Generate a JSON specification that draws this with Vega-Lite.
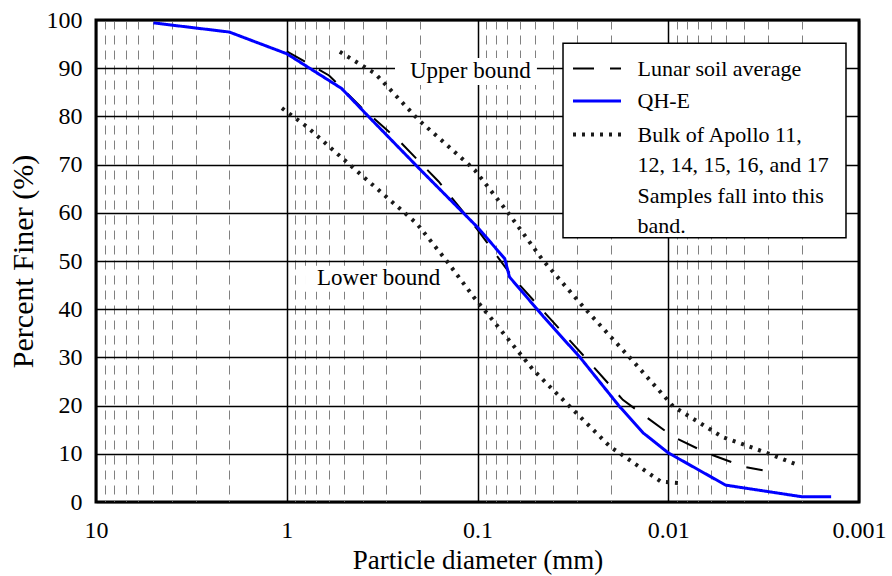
{
  "$schema": "https://vega.github.io/schema/vega-lite/v6.json",
  "width": 763,
  "height": 482,
  "autosize": {"type": "none"},
  "padding": {"left": 96, "top": 20, "right": 33, "bottom": 74},
  "background": "white",
  "config": {
    "font": "Liberation Serif",
    "view": {"stroke": "black", "strokeWidth": 3},
    "axis": {
      "labelFont": "Liberation Serif",
      "titleFont": "Liberation Serif",
      "labelColor": "black",
      "titleColor": "black",
      "titleFontWeight": "normal",
      "labelFontSize": 24,
      "titleFontSize": 27,
      "domain": false,
      "ticks": false
    },
    "style": {"guide-label": {"lineHeight": 30.5}}
  },
  "datasets": {
    "curves": [
      {"series": "Bulk of Apollo 11, 12, 14, 15, 16, and 17 Samples fall into this band.", "bound": "upper", "d": 0.527, "p": 93.4},
      {"series": "Bulk of Apollo 11, 12, 14, 15, 16, and 17 Samples fall into this band.", "bound": "upper", "d": 0.344, "p": 88.9},
      {"series": "Bulk of Apollo 11, 12, 14, 15, 16, and 17 Samples fall into this band.", "bound": "upper", "d": 0.204, "p": 79.3},
      {"series": "Bulk of Apollo 11, 12, 14, 15, 16, and 17 Samples fall into this band.", "bound": "upper", "d": 0.1035, "p": 68.9},
      {"series": "Bulk of Apollo 11, 12, 14, 15, 16, and 17 Samples fall into this band.", "bound": "upper", "d": 0.07, "p": 60.3},
      {"series": "Bulk of Apollo 11, 12, 14, 15, 16, and 17 Samples fall into this band.", "bound": "upper", "d": 0.0455, "p": 50.2},
      {"series": "Bulk of Apollo 11, 12, 14, 15, 16, and 17 Samples fall into this band.", "bound": "upper", "d": 0.0279, "p": 40.5},
      {"series": "Bulk of Apollo 11, 12, 14, 15, 16, and 17 Samples fall into this band.", "bound": "upper", "d": 0.0152, "p": 29.1},
      {"series": "Bulk of Apollo 11, 12, 14, 15, 16, and 17 Samples fall into this band.", "bound": "upper", "d": 0.0094, "p": 19.8},
      {"series": "Bulk of Apollo 11, 12, 14, 15, 16, and 17 Samples fall into this band.", "bound": "upper", "d": 0.0052, "p": 13.5},
      {"series": "Bulk of Apollo 11, 12, 14, 15, 16, and 17 Samples fall into this band.", "bound": "upper", "d": 0.003, "p": 10.1},
      {"series": "Bulk of Apollo 11, 12, 14, 15, 16, and 17 Samples fall into this band.", "bound": "upper", "d": 0.0021, "p": 7.7},
      {"series": "Bulk of Apollo 11, 12, 14, 15, 16, and 17 Samples fall into this band.", "bound": "lower", "d": 1.06, "p": 81.7},
      {"series": "Bulk of Apollo 11, 12, 14, 15, 16, and 17 Samples fall into this band.", "bound": "lower", "d": 0.786, "p": 77.9},
      {"series": "Bulk of Apollo 11, 12, 14, 15, 16, and 17 Samples fall into this band.", "bound": "lower", "d": 0.4565, "p": 69.6},
      {"series": "Bulk of Apollo 11, 12, 14, 15, 16, and 17 Samples fall into this band.", "bound": "lower", "d": 0.2085, "p": 57.8},
      {"series": "Bulk of Apollo 11, 12, 14, 15, 16, and 17 Samples fall into this band.", "bound": "lower", "d": 0.145, "p": 50.0},
      {"series": "Bulk of Apollo 11, 12, 14, 15, 16, and 17 Samples fall into this band.", "bound": "lower", "d": 0.105, "p": 42.6},
      {"series": "Bulk of Apollo 11, 12, 14, 15, 16, and 17 Samples fall into this band.", "bound": "lower", "d": 0.051, "p": 27.4},
      {"series": "Bulk of Apollo 11, 12, 14, 15, 16, and 17 Samples fall into this band.", "bound": "lower", "d": 0.0417, "p": 23.9},
      {"series": "Bulk of Apollo 11, 12, 14, 15, 16, and 17 Samples fall into this band.", "bound": "lower", "d": 0.0202, "p": 11.5},
      {"series": "Bulk of Apollo 11, 12, 14, 15, 16, and 17 Samples fall into this band.", "bound": "lower", "d": 0.0109, "p": 4.2},
      {"series": "Bulk of Apollo 11, 12, 14, 15, 16, and 17 Samples fall into this band.", "bound": "lower", "d": 0.0084, "p": 3.9},
      {"series": "Lunar soil average", "bound": "avg", "d": 1.0, "p": 93.5},
      {"series": "Lunar soil average", "bound": "avg", "d": 0.6, "p": 88.5},
      {"series": "Lunar soil average", "bound": "avg", "d": 0.41, "p": 82.0},
      {"series": "Lunar soil average", "bound": "avg", "d": 0.26, "p": 75.1},
      {"series": "Lunar soil average", "bound": "avg", "d": 0.16, "p": 66.5},
      {"series": "Lunar soil average", "bound": "avg", "d": 0.1, "p": 56.5},
      {"series": "Lunar soil average", "bound": "avg", "d": 0.065, "p": 46.5},
      {"series": "Lunar soil average", "bound": "avg", "d": 0.028, "p": 30.5},
      {"series": "Lunar soil average", "bound": "avg", "d": 0.0173, "p": 21.2},
      {"series": "Lunar soil average", "bound": "avg", "d": 0.0094, "p": 13.5},
      {"series": "Lunar soil average", "bound": "avg", "d": 0.0063, "p": 10.2},
      {"series": "Lunar soil average", "bound": "avg", "d": 0.004, "p": 7.3},
      {"series": "Lunar soil average", "bound": "avg", "d": 0.0032, "p": 6.6},
      {"series": "QH-E", "bound": "qhe", "d": 5.0, "p": 99.4},
      {"series": "QH-E", "bound": "qhe", "d": 2.0, "p": 97.5},
      {"series": "QH-E", "bound": "qhe", "d": 1.0, "p": 93.0},
      {"series": "QH-E", "bound": "qhe", "d": 0.516, "p": 85.8},
      {"series": "QH-E", "bound": "qhe", "d": 0.367, "p": 79.7},
      {"series": "QH-E", "bound": "qhe", "d": 0.2, "p": 69.0},
      {"series": "QH-E", "bound": "qhe", "d": 0.1, "p": 57.0},
      {"series": "QH-E", "bound": "qhe", "d": 0.072, "p": 50.5},
      {"series": "QH-E", "bound": "qhe", "d": 0.068, "p": 46.7},
      {"series": "QH-E", "bound": "qhe", "d": 0.045, "p": 38.4},
      {"series": "QH-E", "bound": "qhe", "d": 0.029, "p": 30.0},
      {"series": "QH-E", "bound": "qhe", "d": 0.018, "p": 19.8},
      {"series": "QH-E", "bound": "qhe", "d": 0.0135, "p": 14.3},
      {"series": "QH-E", "bound": "qhe", "d": 0.01, "p": 10.2},
      {"series": "QH-E", "bound": "qhe", "d": 0.005, "p": 3.5},
      {"series": "QH-E", "bound": "qhe", "d": 0.002, "p": 1.1},
      {"series": "QH-E", "bound": "qhe", "d": 0.0014, "p": 1.1}
    ],
    "boxes": [
      {"d": 0.2707, "d2": 0.0488, "p": 92.1, "p2": 86.5},
      {"d": 0.802, "d2": 0.139, "p": 49.0, "p2": 43.6}
    ],
    "legendbox": [
      {"d": 0.03562, "d2": 0.00117, "p": 95.2, "p2": 54.8}
    ],
    "notes": [
      {"label": "Upper bound", "d": 0.226, "p": 89.4},
      {"label": "Lower bound", "d": 0.694, "p": 46.5}
    ]
  },
  "encoding": {
    "x": {
      "field": "d",
      "type": "quantitative",
      "title": "Particle diameter (mm)",
      "scale": {"type": "log", "domain": [0.001, 10], "reverse": true, "nice": false},
      "axis": {
        "values": [10, 9, 8, 7, 6, 5, 4, 3, 2, 1, 0.9, 0.8, 0.7, 0.6, 0.5, 0.4, 0.3, 0.2, 0.1, 0.09, 0.08, 0.07, 0.06, 0.05, 0.04, 0.03, 0.02, 0.01, 0.009, 0.008, 0.007, 0.006, 0.005, 0.004, 0.003, 0.002, 0.001],
        "format": "~g",
        "grid": true,
        "gridColor": {"condition": {"test": "abs(log(datum.value)/LN10 - round(log(datum.value)/LN10)) < 0.001", "value": "black"}, "value": "#808080"},
        "gridDash": {"condition": {"test": "abs(log(datum.value)/LN10 - round(log(datum.value)/LN10)) < 0.001", "value": []}, "value": [9, 6]},
        "gridWidth": {"condition": {"test": "abs(log(datum.value)/LN10 - round(log(datum.value)/LN10)) < 0.001", "value": 1.5}, "value": 1},
        "labelExpr": "abs(log(datum.value)/LN10 - round(log(datum.value)/LN10)) < 0.001 ? datum.label : ''",
        "labelOverlap": false,
        "labelFlush": false,
        "labelPadding": 16,
        "titlePadding": 5
      }
    },
    "y": {
      "field": "p",
      "type": "quantitative",
      "title": "Percent Finer (%)",
      "scale": {"domain": [0, 100], "nice": false},
      "axis": {
        "values": [0, 10, 20, 30, 40, 50, 60, 70, 80, 90, 100],
        "grid": true,
        "gridColor": "black",
        "gridWidth": 1.5,
        "labelPadding": 14,
        "titleFontSize": 30,
        "titlePadding": 8
      }
    }
  },
  "layer": [
    {
      "data": {"name": "boxes"},
      "mark": {"type": "rect", "fill": "white"},
      "encoding": {
        "x2": {"field": "d2"},
        "y2": {"field": "p2"}
      }
    },
    {
      "data": {"name": "legendbox"},
      "mark": {"type": "rect", "fill": "white", "stroke": "black", "strokeWidth": 1.5},
      "encoding": {
        "x2": {"field": "d2"},
        "y2": {"field": "p2"}
      }
    },
    {
      "data": {"name": "curves"},
      "mark": {"type": "line", "interpolate": "linear"},
      "encoding": {
        "detail": {"field": "bound"},
        "color": {
          "field": "series",
          "type": "nominal",
          "scale": {"domain": ["Lunar soil average", "QH-E", "Bulk of Apollo 11, 12, 14, 15, 16, and 17 Samples fall into this band."], "range": ["black", "#0000ff", "#1a1a1a"]},
          "legend": {
            "title": null,
            "orient": "none",
            "legendX": 481.5,
            "legendY": 37.5,
            "direction": "vertical",
            "symbolType": "M-2.4,0H2.4",
            "symbolSize": 400,
            "symbolOffset": 7.5,
            "labelOffset": 28.5,
            "labelFont": "Liberation Serif",
            "labelFontSize": 22,
            "labelColor": "black",
            "labelLimit": 400,
            "labelBaseline": "middle",
            "labelExpr": "datum.label == 'QH-E' || datum.label == 'Lunar soil average' ? datum.label : ['Bulk of Apollo 11,', '12, 14, 15, 16, and 17', 'Samples fall into this', 'band.']",
            "rowPadding": 10,
            "padding": 0
          }
        },
        "strokeDash": {
          "field": "series",
          "type": "nominal",
          "scale": {"domain": ["Lunar soil average", "QH-E", "Bulk of Apollo 11, 12, 14, 15, 16, and 17 Samples fall into this band."], "range": [[21, 16], [1, 0], [3, 6]]}
        },
        "strokeWidth": {
          "field": "series",
          "type": "nominal",
          "scale": {"domain": ["Lunar soil average", "QH-E", "Bulk of Apollo 11, 12, 14, 15, 16, and 17 Samples fall into this band."], "range": [2, 4, 1.3]}
        }
      }
    },
    {
      "data": {"name": "notes"},
      "mark": {"type": "text", "align": "left", "baseline": "middle", "fontSize": 23, "font": "Liberation Serif", "color": "black"},
      "encoding": {
        "text": {"field": "label"}
      }
    }
  ]
}
